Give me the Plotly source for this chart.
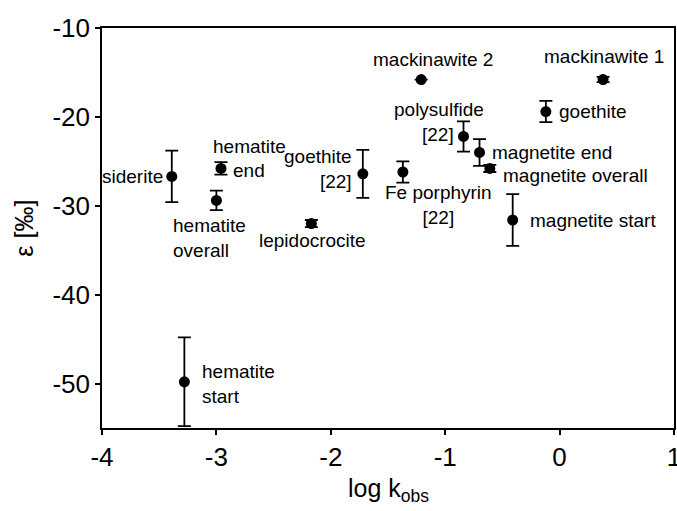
import plotly.graph_objects as go

# Isotope enrichment factor vs. observed rate constant for each mineral/reactant
names = ["siderite", "hematite end", "hematite overall", "hematite start",
         "lepidocrocite", "goethite [22]", "Fe porphyrin [22]", "mackinawite 2",
         "polysulfide [22]", "magnetite end", "magnetite overall",
         "magnetite start", "goethite", "mackinawite 1"]
log_k = [-3.39, -2.96, -3.00, -3.28, -2.17, -1.72, -1.37, -1.21,
         -0.84, -0.70, -0.61, -0.41, -0.12, 0.38]
eps = [-26.7, -25.8, -29.4, -49.8, -32.0, -26.4, -26.2, -15.8,
       -22.2, -24.0, -25.8, -31.6, -19.4, -15.8]
eps_err = [2.9, 0.7, 1.1, 5.0, 0.4, 2.7, 1.2, 0.0,
           1.7, 1.5, 0.4, 2.9, 1.2, 0.3]

x_ticks = [-4, -3, -2, -1, 0, 1]
x_tick_text = ["-4", "-3", "-2", "-1", "0", "1"]
y_ticks = [-50, -40, -30, -20, -10]
y_tick_text = ["-50", "-40", "-30", "-20", "-10"]

FONT = "Liberation Sans, Arial, sans-serif"

fig = go.Figure()
fig.add_trace(go.Scatter(
    x=log_k, y=eps, mode="markers",
    marker=dict(color="black", size=11),
    error_y=dict(type="data", array=eps_err, visible=True,
                 color="black", thickness=1.8, width=6.5),
    showlegend=False,
))

# Label placement for each point: (text, xanchor, align, dx px, dy px)
label_specs = {
    "siderite": [("siderite", "right", "right", -7, 0)],
    "hematite end": [("hematite", "left", "left", -10, 22),
                     ("end", "left", "left", 10, -2)],
    "hematite overall": [("hematite<br>overall", "left", "left", -45, -38)],
    "hematite start": [("hematite<br>start", "left", "left", 16, -2)],
    "lepidocrocite": [("lepidocrocite", "center", "center", 1, -17)],
    "goethite [22]": [("goethite<br>[22]", "right", "right", -9, 5)],
    "Fe porphyrin [22]": [("Fe porphyrin<br>[22]", "center", "center", 36, -33)],
    "mackinawite 2": [("mackinawite 2", "center", "center", 12, 20)],
    "polysulfide [22]": [("polysulfide", "center", "center", -25, 27),
                         ("[22]", "right", "right", -8, 2)],
    "magnetite end": [("magnetite end", "left", "left", 10, 0)],
    "magnetite overall": [("magnetite overall", "left", "left", 11, -7)],
    "magnetite start": [("magnetite start", "left", "left", 15, 0)],
    "goethite": [("goethite", "left", "left", 11, 0)],
    "mackinawite 1": [("mackinawite 1", "center", "center", 1, 23)],
}

for name, xv, yv in zip(names, log_k, eps):
    for text, xa, al, dx, dy in label_specs[name]:
        fig.add_annotation(
            x=xv, y=yv, xref="x", yref="y", text=text, showarrow=False,
            xanchor=xa, yanchor="middle", align=al, xshift=dx, yshift=dy,
            font=dict(family=FONT, size=19, color="black"),
        )

# Axis titles
fig.add_annotation(
    x=0.5, y=-0.155, xref="paper", yref="paper", showarrow=False,
    text="log k<sub>obs</sub>", xanchor="center", yanchor="middle",
    font=dict(family=FONT, size=25, color="black"),
)
fig.add_annotation(
    x=-0.137, y=0.5, xref="paper", yref="paper", showarrow=False,
    text="ε [‰]", textangle=-90, xanchor="center", yanchor="middle",
    font=dict(family=FONT, size=25, color="black"),
)

axis_common = dict(
    showgrid=False, zeroline=False, showline=True, linecolor="black",
    linewidth=1.6, mirror=True, ticks="outside", ticklen=5, tickwidth=1.6,
    tickcolor="black", tickfont=dict(family=FONT, size=26, color="black"),
    ticklabeloverflow="allow", automargin=False,
)
fig.update_xaxes(range=[-4, 1], tickvals=x_ticks, ticktext=x_tick_text,
                 **axis_common)
fig.update_yaxes(range=[-55, -10], tickvals=y_ticks, ticktext=y_tick_text,
                 **axis_common)

fig.update_layout(
    width=677, height=511,
    margin=dict(l=102, r=3, t=28, b=83),
    paper_bgcolor="white", plot_bgcolor="white",
    font=dict(family=FONT, color="black"),
)

fig.write_html("out.html")
